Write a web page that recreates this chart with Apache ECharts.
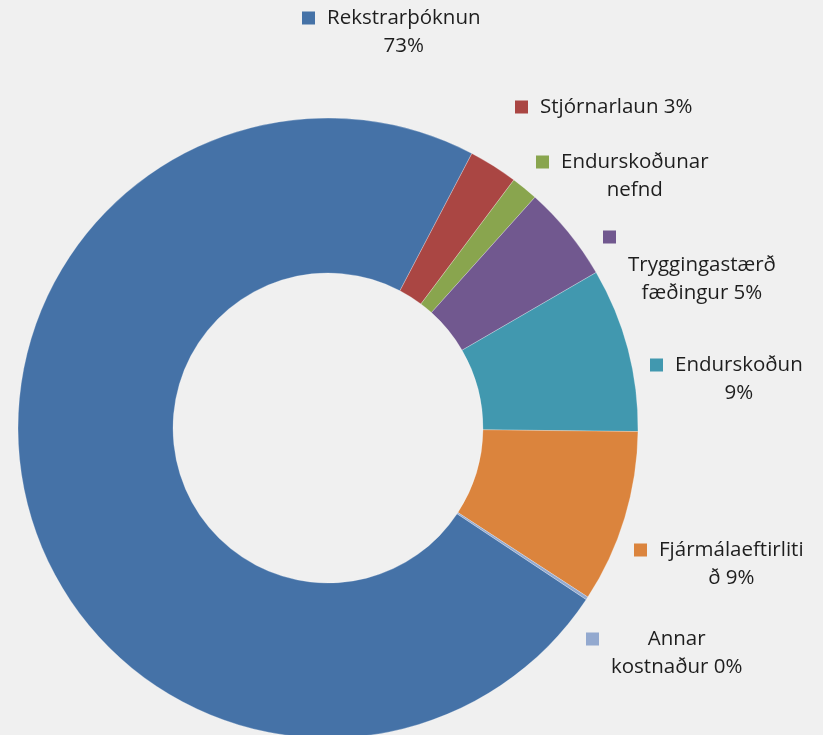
<!DOCTYPE html>
<html>
<head>
<meta charset="utf-8">
<title>Kostnaður</title>
<script src="https://cdn.jsdelivr.net/npm/echarts@6.0.0/dist/echarts.min.js"></script>
<style>
  html, body { margin: 0; padding: 0; background: #f0f0f0; }
  #main { width: 823px; height: 735px; }
</style>
</head>
<body>
<div id="main"></div>
<script>
// flokkar og hlutfall (%) lesið af myndinni
var names = ['Rekstrarþóknun', 'Stjórnarlaun', 'Endurskoðunarnefnd', 'Tryggingastærðfæðingur', 'Endurskoðun', 'Fjármálaeftirlitið', 'Annar kostnaður'];
var values = [73.35, 2.55, 1.4, 5.0, 8.55, 9.0, 0.15];
// textinn eins og hann brotnar í upprunalegu myndinni, {p} = prósenta
var labelLines = [
  ['Rekstrarþóknun', '{p}'],
  ['Stjórnarlaun {p}'],
  ['Endurskoðunar', 'nefnd'],
  ['', 'Tryggingastærð', 'fæðingur {p}'],
  ['Endurskoðun', '{p}'],
  ['Fjármálaeftirliti', 'ð {p}'],
  ['Annar', 'kostnaður {p}']
];
var colors = ['#4572a7', '#aa4643', '#89a54e', '#71588f', '#4198af', '#db843d', '#93a9cf'];

// efra vinstra horn hvers merkis (px)
var labelPos = [[302, 4], [515, 93], [536, 148], [603, 223], [650, 351], [634, 536], [586, 625]];

var chart = echarts.init(document.getElementById('main'), null, { width: 823, height: 735 });
setOption(chart);

function setOption(chart) {
  var rich = {
    g: { width: 12, align: 'left' },
    s: { width: 25, align: 'left' },
    t: {
      align: 'center',
      fontFamily: 'Open Sans',
      fontSize: 20.5,
      color: '#1e1e1e',
      lineHeight: 28
    }
  };
  for (var i = 0; i < colors.length; i++) {
    rich['m' + i] = { width: 13, height: 13, backgroundColor: colors[i], align: 'left', verticalAlign: 'middle' };
  }

  var data = [];
  for (var j = 0; j < names.length; j++) {
    data.push({ name: names[j], value: values[j], itemStyle: { color: colors[j] } });
  }

  var option = {
    backgroundColor: '#f0f0f0',
    animation: false,
    series: [
      {
        type: 'pie',
        center: [328, 428],
        radius: [155, 310],
        startAngle: -33.6,
        clockwise: true,
        avoidLabelOverlap: false,
        data: data,
        itemStyle: {
          borderColor: 'rgba(255,255,255,0.5)',
          borderWidth: 0.5
        },
        label: {
          show: true,
          position: 'outside',
          lineHeight: 28,
          fontFamily: 'Open Sans',
          fontSize: 20.5,
          color: '#1e1e1e',
          rich: rich,
          formatter: function (params) {
            var i = params.dataIndex;
            var p = Math.round(params.percent) + '%';
            return labelLines[i].map(function (l, k) {
              var t = l.replace('{p}', p);
              if (k == 0) return '{m' + i + '|}{g|}' + (t ? '{t|' + t + '}' : '');
              return '{s|}{t|' + t + '}';
            }).join('\n');
          }
        },
        labelLine: { show: false },
        labelLayout: function (params) {
          var pos = labelPos[params.dataIndex];
          return { x: pos[0], y: pos[1], align: 'left', verticalAlign: 'top', hideOverlap: false };
        }
      }
    ]
  };
  chart.setOption(option);
}
</script>
</body>
</html>
